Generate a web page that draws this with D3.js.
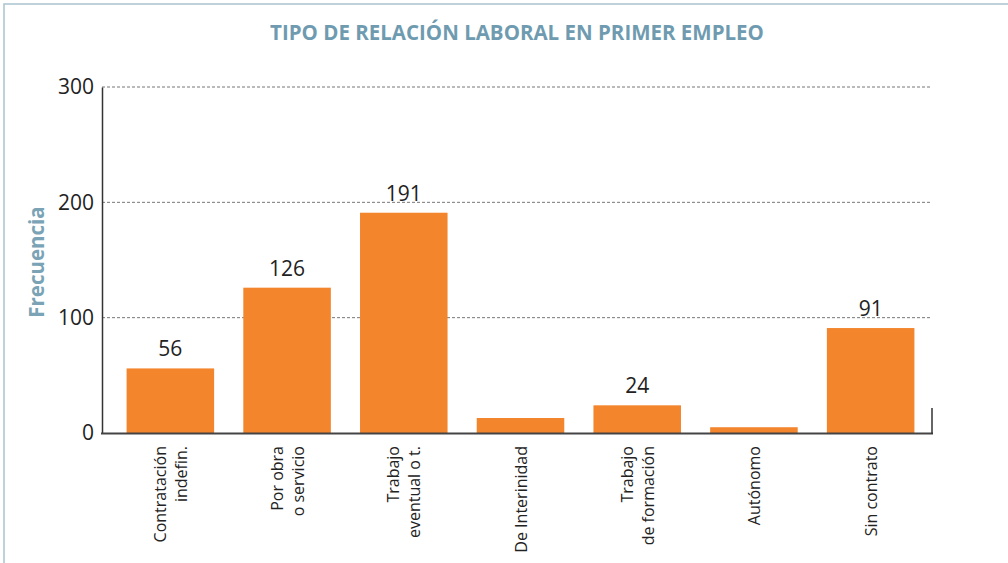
<!DOCTYPE html>
<html>
<head>
<meta charset="utf-8">
<script src="https://d3js.org/d3.v7.min.js"></script>
<style>
body{margin:0;background:#fff}
svg{display:block}
</style>
</head>
<body>
<div id="chart"></div>
<script>
var categories = [["Contratación","indefin."],["Por obra","o servicio"],["Trabajo","eventual o t."],["De Interinidad"],["Trabajo","de formación"],["Autónomo"],["Sin contrato"]]
var values = [56,126,191,13,24,5,91]
var valueLabels = ["56","126","191","","24","","91"]
var yTicks = [0,100,200,300]

var width = 1008, height = 563
var font = "'Open Sans',sans-serif"
var svg = d3.select("#chart").append("svg").attr("width",width).attr("height",height)

// frame
svg.append("path").attr("d","M4,563V4H1008")
    .attr("fill","none").attr("stroke","#aac4d0").attr("stroke-width",1.5)

svg.append("text").text("TIPO DE RELACIÓN LABORAL EN PRIMER EMPLEO")
    .attr("x",517).attr("y",40).attr("text-anchor","middle")
    .attr("font-family",font).attr("font-weight","bold").attr("font-size",20.5)
    .attr("fill","#6f9bb0")

var x = d3.scaleBand().domain(d3.range(values.length)).range([112,929])
    .paddingInner(0.25).paddingOuter(0.125)
var y = d3.scaleLinear().domain([0,300]).range([433,87])

// dashed grid
svg.selectAll(".grid").data(yTicks.filter(function(d){return d>0}))
    .enter().append("line")
    .attr("x1",102).attr("x2",932)
    .attr("y1",function(d){return y(d)}).attr("y2",function(d){return y(d)})
    .attr("stroke","#777").attr("stroke-width",1).attr("stroke-dasharray","3,2")

var yAxis = d3.axisLeft(y).tickValues(yTicks).tickSize(0).tickPadding(8)
var ga = svg.append("g").attr("transform","translate(102,0)").call(yAxis)
ga.select(".domain").attr("stroke","#333").attr("stroke-width",1.5)
ga.selectAll("text").attr("font-family",font).attr("font-size",21).attr("fill","#222")

svg.append("text").text("Frecuencia")
    .attr("transform","translate(44,262) rotate(-90)").attr("text-anchor","middle")
    .attr("font-family",font).attr("font-weight","bold").attr("font-size",20.5)
    .attr("fill","#7aa3b5")

// bars
svg.selectAll(".bar").data(values).enter().append("rect")
    .attr("x",function(d,i){return x(i)})
    .attr("y",function(d){return y(d)})
    .attr("width",x.bandwidth())
    .attr("height",function(d){return y(0)-y(d)})
    .attr("fill","#f3852d")

svg.selectAll(".val").data(values).enter().append("text")
    .text(function(d,i){return valueLabels[i]})
    .attr("x",function(d,i){return x(i)+x.bandwidth()/2})
    .attr("y",function(d){return y(d)-12})
    .attr("text-anchor","middle")
    .attr("font-family",font).attr("font-size",21).attr("fill","#222")

// x axis line
svg.append("line").attr("x1",101).attr("x2",933).attr("y1",433.5).attr("y2",433.5)
    .attr("stroke","#444").attr("stroke-width",2)
svg.append("line").attr("x1",932).attr("x2",932).attr("y1",408).attr("y2",434)
    .attr("stroke","#333").attr("stroke-width",1.5)

// category labels
categories.forEach(function(lines,i){
    var cx = x(i)+x.bandwidth()/2
    var n = lines.length
    lines.forEach(function(t,j){
        var off = (j-(n-1)/2)*21
        svg.append("text").text(t)
            .attr("transform","translate("+(cx+off+6)+",446) rotate(-90)")
            .attr("text-anchor","end")
            .attr("font-family",font).attr("font-size",16).attr("fill","#222")
    })
})
</script>
</body>
</html>
